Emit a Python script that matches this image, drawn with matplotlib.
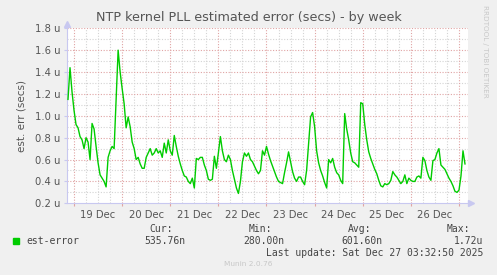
import numpy as np
import matplotlib
matplotlib.use("Agg")
import matplotlib.pyplot as plt
from matplotlib.ticker import FixedLocator, NullFormatter

# hours since 19 Dec 00:00, one sample per hour
start_hour = -3
est_error = [
    1.15, 1.44, 1.22, 1.05, 0.92, 0.89, 0.81, 0.78, 0.70, 0.80,
    0.76, 0.60, 0.93, 0.88, 0.72, 0.57, 0.46, 0.43, 0.40, 0.35,
    0.62, 0.68, 0.72, 0.70, 1.15, 1.60, 1.40, 1.25, 1.11, 0.89,
    0.99, 0.90, 0.76, 0.70, 0.60, 0.62, 0.56, 0.52, 0.52, 0.62,
    0.66, 0.70, 0.64, 0.66, 0.70, 0.66, 0.68, 0.62, 0.75, 0.66,
    0.78, 0.68, 0.64, 0.82, 0.72, 0.63, 0.56, 0.50, 0.45, 0.44,
    0.40, 0.38, 0.43, 0.34, 0.61, 0.60, 0.62, 0.62, 0.55, 0.50,
    0.42, 0.41, 0.42, 0.63, 0.52, 0.66, 0.81, 0.68, 0.60, 0.58,
    0.64, 0.60, 0.50, 0.42, 0.34, 0.29, 0.40, 0.58, 0.66, 0.63,
    0.66, 0.60, 0.58, 0.54, 0.50, 0.47, 0.50, 0.68, 0.64, 0.72,
    0.65, 0.59, 0.54, 0.49, 0.44, 0.40, 0.39, 0.38, 0.48, 0.57,
    0.67, 0.58, 0.49, 0.43, 0.40, 0.44, 0.44, 0.40, 0.37, 0.50,
    0.74, 0.99, 1.03, 0.90, 0.68, 0.57, 0.50, 0.45, 0.39, 0.34,
    0.60, 0.57, 0.61, 0.53, 0.48, 0.46, 0.41, 0.38, 1.02, 0.88,
    0.78, 0.66, 0.58, 0.57, 0.55, 0.53, 1.12, 1.11, 0.92, 0.78,
    0.67, 0.61, 0.56, 0.51, 0.47, 0.41, 0.36, 0.35, 0.38, 0.37,
    0.38, 0.41, 0.49, 0.46, 0.44, 0.41, 0.38, 0.40, 0.46, 0.38,
    0.43, 0.41, 0.40, 0.40, 0.44, 0.45, 0.43, 0.62, 0.59, 0.50,
    0.44, 0.41, 0.59, 0.60, 0.66, 0.70, 0.55, 0.53, 0.51, 0.47,
    0.43, 0.40, 0.36, 0.31, 0.30, 0.32, 0.45, 0.68, 0.56,
]
hours = start_hour + np.arange(len(est_error))

day_labels = ["19 Dec", "20 Dec", "21 Dec", "22 Dec", "23 Dec", "24 Dec", "25 Dec", "26 Dec"]
y_ticks = [0.2, 0.4, 0.6, 0.8, 1.0, 1.2, 1.4, 1.6, 1.8]
legend_cols = ["Cur:", "Min:", "Avg:", "Max:"]
legend_vals = ["535.76n", "280.00n", "601.60n", "1.72u"]

bg = "#f0f0f0"
txt = "#444444"
minor_col = "#d4d4d4"
major_col = "#e0a4a4"
axis_col = "#c8c8f0"
dots = (0, (1, 1.5))

fig = plt.figure(figsize=(4.97, 2.75), dpi=100, facecolor=bg)
ax = fig.add_axes([67 / 497, 1 - 203.3 / 275, 401 / 497, 175 / 275])
ax.set_facecolor("white")
ax.set_xlim(-3.5, 196.5)
ax.set_ylim(0.2, 1.8)

# rrdtool style grid: gray minor every 6h / 0.1u, red major every day / 0.2u
major_x = list(range(0, 197, 24))
minor_x = [h for h in range(0, 197, 6) if h % 24 != 0]
for h in minor_x:
    ax.axvline(h, color=minor_col, lw=0.8, ls=dots, zorder=1)
for h in major_x:
    ax.axvline(h, color=major_col, lw=0.8, ls=dots, zorder=1.5)
for v in np.arange(0.3, 1.8, 0.2):
    ax.axhline(v, color=minor_col, lw=0.8, ls=dots, zorder=1)
for v in y_ticks[1:]:
    ax.axhline(v, color=major_col, lw=0.8, ls=dots, zorder=1.5)

ax.plot(hours, est_error, color="#00cc00", lw=1.0, zorder=3)

for s in ["top", "right"]:
    ax.spines[s].set_visible(False)
for s in ["left", "bottom"]:
    ax.spines[s].set_color(axis_col)

ax.set_yticks(y_ticks)
ax.set_yticklabels([f"{v:.1f} u" for v in y_ticks])
ax.xaxis.set_major_locator(FixedLocator(major_x))
ax.xaxis.set_major_formatter(NullFormatter())
ax.xaxis.set_minor_locator(FixedLocator([12 + 24 * i for i in range(len(day_labels))]))
ax.set_xticklabels(day_labels, minor=True)
ax.tick_params(axis="x", which="minor", length=0, pad=5, labelsize=7.2, labelcolor="#555555")
ax.tick_params(axis="x", which="major", length=2, color=major_col)
ax.tick_params(axis="y", length=2, color=axis_col, pad=3, labelsize=7.2, labelcolor="#555555")

# axis arrows
ax.plot([0], [1.025], marker="^", color=axis_col, ms=4, transform=ax.transAxes, clip_on=False)
ax.plot([1.008], [0], marker=">", color=axis_col, ms=4, transform=ax.transAxes, clip_on=False)

ax.set_ylabel("est. err (secs)", fontsize=7.5, color="#555555", labelpad=6)

fig.text(0.5, 1 - 17 / 275, "NTP kernel PLL estimated error (secs) - by week",
         ha="center", va="center", fontsize=9.2, color="#555555")
fig.text(485 / 497, 1 - 5 / 275, "RRDTOOL / TOBI OETIKER", rotation=-90,
         ha="center", va="top", fontsize=5.2, color="#c8c8c8")

# legend block
mono = "DejaVu Sans Mono"
fig.patches.append(plt.Rectangle((13 / 497, 1 - 243.5 / 275), 6 / 497, 6 / 275,
                                 transform=fig.transFigure, color="#00cc00"))
fig.text(26 / 497, 1 - 240.5 / 275, "est-error", family=mono, fontsize=7, color=txt, va="center")
for cx, lab in zip([173, 272, 371, 470], legend_cols):
    fig.text(cx / 497, 1 - 228.5 / 275, lab, family=mono, fontsize=7, color=txt,
             va="center", ha="right")
for cx, val in zip([185, 284, 383, 483], legend_vals):
    fig.text(cx / 497, 1 - 240.5 / 275, val, family=mono, fontsize=7, color=txt,
             va="center", ha="right")
fig.text(483 / 497, 1 - 252.5 / 275, "Last update: Sat Dec 27 03:32:50 2025", family=mono,
         fontsize=7, color=txt, va="center", ha="right")
fig.text(248 / 497, 1 - 264 / 275, "Munin 2.0.76", fontsize=5.3, color="#c8c8c8",
         va="center", ha="center")

fig.savefig("out.png", dpi=100, facecolor=bg)
